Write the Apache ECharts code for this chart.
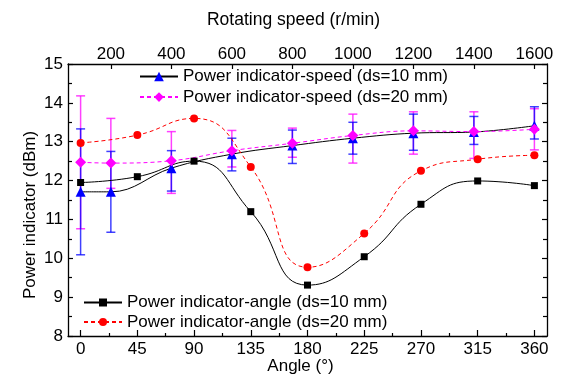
<!DOCTYPE html>
<html>
<head>
<meta charset="utf-8">
<script src="https://cdn.jsdelivr.net/npm/echarts@6/dist/echarts.min.js"></script>
<style>
html,body{margin:0;padding:0;background:#fff;}
#chart{width:562px;height:383px;}
</style>
</head>
<body>
<div id="chart"></div>
<script>
// ---- data ----
var angles = [0, 45, 90, 135, 180, 225, 270, 315, 360];
var angle10 = [11.95, 12.10, 12.50, 11.20, 9.31, 10.04, 11.39, 11.99, 11.87];
var angle20 = [12.97, 13.17, 13.60, 12.35, 9.77, 10.64, 12.25, 12.55, 12.65];

var speeds = [100, 200, 400, 600, 800, 1000, 1200, 1400, 1600];
var speed10 = [11.71, 11.71, 12.32, 12.68, 12.90, 13.09, 13.22, 13.25, 13.41];
var speed10ErrUp = [1.62, 1.04, 0.45, 0.41, 0.40, 0.41, 0.49, 0.40, 0.49];
var speed10ErrDown = [1.62, 1.04, 0.59, 0.43, 0.46, 0.41, 0.44, 0.32, 0.34];
var speed20 = [12.47, 12.45, 12.51, 12.77, 12.96, 13.16, 13.28, 13.26, 13.32];
var speed20ErrUp = [1.71, 1.15, 0.75, 0.52, 0.39, 0.55, 0.49, 0.51, 0.53];
var speed20ErrDown = [1.71, 0.65, 0.84, 0.42, 0.36, 0.71, 0.60, 0.69, 0.53];

var angleMajorTicks = [0, 45, 90, 135, 180, 225, 270, 315, 360];
var angleMinorTicks = [22.5, 67.5, 112.5, 157.5, 202.5, 247.5, 292.5, 337.5];
var speedTicks = [200, 400, 600, 800, 1000, 1200, 1400, 1600];

var names = {
  s10: 'Power indicator-speed (ds=10 mm)',
  s20: 'Power indicator-speed (ds=20 mm)',
  a10: 'Power indicator-angle (ds=10 mm)',
  a20: 'Power indicator-angle (ds=20 mm)'
};

// ---- helpers ----
var FONT = 'Liberation Sans, Arial, sans-serif';
function pairs(xs, ys) { return xs.map(function (x, i) { return [x, ys[i]]; }); }
function errData(xs, v, up, down) {
  return xs.map(function (x, i) { return [x, v[i] - down[i], v[i] + up[i]]; });
}
function errRender(color) {
  return function (params, api) {
    var x = api.value(0);
    var pLo = api.coord([x, api.value(1)]);
    var pHi = api.coord([x, api.value(2)]);
    var w = 4.5;
    var st = { stroke: color, lineWidth: 1.5, opacity: 0.75 };
    return {
      type: 'group',
      children: [
        { type: 'line', shape: { x1: pLo[0], y1: pLo[1], x2: pHi[0], y2: pHi[1] }, style: st },
        { type: 'line', shape: { x1: pLo[0] - w, y1: pLo[1], x2: pLo[0] + w, y2: pLo[1] }, style: st },
        { type: 'line', shape: { x1: pHi[0] - w, y1: pHi[1], x2: pHi[0] + w, y2: pHi[1] }, style: st }
      ]
    };
  };
}
function plain(v) { return String(v); }

var axisLineStyle = { color: '#000', width: 1.3 };
var speedPad = 41.667; // 10 degrees expressed in r/min

var chart = echarts.init(document.getElementById('chart'), null, { renderer: 'canvas' });
chart.setOption({
  animation: false,
  backgroundColor: '#fff',
  textStyle: { fontFamily: FONT },
  grid: { left: 68, right: 15, top: 64, bottom: 47, containLabel: false },
  legend: [
    {
      data: [names.s10, names.s20],
      orient: 'vertical', left: 139, top: 68, padding: 0,
      itemWidth: 38, itemHeight: 12, itemGap: 3.6,
      textStyle: { color: '#000', fontSize: 17, fontFamily: FONT, lineHeight: 17 }
    },
    {
      data: [names.a10, names.a20],
      orient: 'vertical', left: 83, top: 294, padding: 0,
      itemWidth: 38, itemHeight: 10, itemGap: 2.4,
      textStyle: { color: '#000', fontSize: 17, fontFamily: FONT, lineHeight: 17 }
    }
  ],
  xAxis: [
    {
      type: 'value', position: 'bottom', min: -10, max: 370,
      name: 'Angle (°)', nameLocation: 'middle', nameGap: 22, nameMoveOverlap: false,
      nameTextStyle: { color: '#000', fontSize: 17, fontFamily: FONT, padding: [0, 14, 0, 0] },
      axisLine: { show: true, onZero: false, lineStyle: axisLineStyle },
      axisTick: { show: true, inside: true, length: 6, customValues: angleMajorTicks, lineStyle: { color: '#000', width: 1.2 } },
      axisLabel: { show: true, margin: 5, customValues: angleMajorTicks, formatter: plain, color: '#000', fontSize: 17, fontFamily: FONT },
      splitLine: { show: false }
    },
    {
      type: 'value', position: 'top', min: speeds[0] - speedPad, max: speeds[speeds.length - 1] + speedPad,
      name: 'Rotating speed (r/min)', nameLocation: 'middle', nameGap: 35, nameMoveOverlap: false,
      nameTextStyle: { color: '#000', fontSize: 17.5, fontFamily: FONT, padding: [0, 28, 0, 0] },
      axisLine: { show: true, onZero: false, lineStyle: axisLineStyle },
      axisTick: { show: true, inside: true, length: 5, customValues: speedTicks, lineStyle: { color: '#000', width: 1.2 } },
      axisLabel: { show: true, margin: 1, customValues: speedTicks, formatter: plain, color: '#000', fontSize: 17, fontFamily: FONT },
      splitLine: { show: false }
    },
    {
      type: 'value', position: 'bottom', min: -10, max: 370,
      axisLine: { show: false, onZero: false },
      axisTick: { show: true, inside: true, length: 3, customValues: angleMinorTicks, lineStyle: { color: '#000', width: 1.2 } },
      axisLabel: { show: false },
      splitLine: { show: false }
    }
  ],
  yAxis: [
    {
      type: 'value', position: 'left', min: 8, max: 15, interval: 1,
      name: 'Power indicator (dBm)', nameLocation: 'middle', nameGap: 29, nameMoveOverlap: false,
      nameTextStyle: { color: '#000', fontSize: 17, fontFamily: FONT, padding: [0, 30, 0, 0] },
      axisLine: { show: true, onZero: false, lineStyle: axisLineStyle },
      axisTick: { show: true, inside: true, length: 5, lineStyle: { color: '#000', width: 1.2 } },
      minorTick: { show: true, splitNumber: 2, length: 4, lineStyle: { color: '#000', width: 1.2 } },
      axisLabel: { margin: 5, color: '#000', fontSize: 17, fontFamily: FONT },
      splitLine: { show: false }
    },
    {
      type: 'value', position: 'right', min: 8, max: 15, interval: 1,
      axisLine: { show: true, onZero: false, lineStyle: axisLineStyle },
      axisTick: { show: true, inside: true, length: 5, lineStyle: { color: '#000', width: 1.2 } },
      minorTick: { show: true, splitNumber: 2, length: 4, lineStyle: { color: '#000', width: 1.2 } },
      axisLabel: { show: false },
      splitLine: { show: false }
    }
  ],
  series: [
    {
      name: 'err20', type: 'custom', xAxisIndex: 1, yAxisIndex: 0, z: 1,
      renderItem: errRender('#ff00ff'),
      encode: { x: 0, y: [1, 2] },
      data: errData(speeds, speed20, speed20ErrUp, speed20ErrDown)
    },
    {
      name: 'err10', type: 'custom', xAxisIndex: 1, yAxisIndex: 0, z: 1,
      renderItem: errRender('#0000ff'),
      encode: { x: 0, y: [1, 2] },
      data: errData(speeds, speed10, speed10ErrUp, speed10ErrDown)
    },
    {
      name: names.s10, type: 'line', xAxisIndex: 1, yAxisIndex: 0, z: 3,
      smooth: 0.4, symbol: 'triangle', symbolSize: 10, showAllSymbol: true,
      itemStyle: { color: '#0000ff' },
      lineStyle: { color: '#000', width: 1, type: 'solid' },
      data: pairs(speeds, speed10)
    },
    {
      name: names.s20, type: 'line', xAxisIndex: 1, yAxisIndex: 0, z: 3,
      smooth: 0.4, symbol: 'diamond', symbolSize: 11, showAllSymbol: true,
      itemStyle: { color: '#ff00ff' },
      lineStyle: { color: '#ff00ff', width: 1, type: [4, 3] },
      data: pairs(speeds, speed20)
    },
    {
      name: names.a10, type: 'line', xAxisIndex: 0, yAxisIndex: 0, z: 3,
      smooth: 0.5, symbol: 'rect', symbolSize: 7, showAllSymbol: true,
      itemStyle: { color: '#000' },
      lineStyle: { color: '#000', width: 1, type: 'solid' },
      data: pairs(angles, angle10)
    },
    {
      name: names.a20, type: 'line', xAxisIndex: 0, yAxisIndex: 0, z: 3,
      smooth: 0.5, symbol: 'circle', symbolSize: 8, showAllSymbol: true,
      itemStyle: { color: '#ff0000' },
      lineStyle: { color: '#ff0000', width: 1, type: [4, 3] },
      data: pairs(angles, angle20)
    }
  ]
});
</script>
</body>
</html>
